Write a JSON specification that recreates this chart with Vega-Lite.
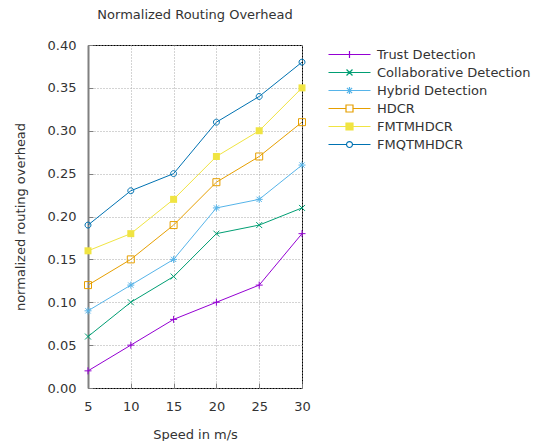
{
  "$schema": "https://vega.github.io/schema/vega-lite/v6.json",
  "autosize": {"type": "none"},
  "width": 214,
  "height": 343,
  "padding": {"left": 88, "top": 45, "right": 235, "bottom": 53},
  "background": "white",
  "title": {"text": "Normalized Routing Overhead", "font": "DejaVu Sans", "fontSize": 13, "fontWeight": "normal", "color": "#333", "offset": 17, "anchor": "middle"},
  "config": {
    "view": {"stroke": "black", "strokeWidth": 1},
    "axis": {"labelFont": "DejaVu Sans", "labelFontSize": 13, "labelColor": "#333", "titleFont": "DejaVu Sans", "titleFontSize": 13, "titleFontWeight": "normal", "titleColor": "#333", "domain": false, "ticks": true, "tickSize": -5, "tickColor": "#808080", "tickWidth": 1, "gridColor": "#a8a8a8", "gridDash": [1, 2], "gridWidth": 1, "gridOpacity": 1}
  },
  "data": {"values": [
    {"series": "Trust Detection", "speed": 5, "value": 0.02},
    {"series": "Trust Detection", "speed": 10, "value": 0.05},
    {"series": "Trust Detection", "speed": 15, "value": 0.08},
    {"series": "Trust Detection", "speed": 20, "value": 0.10},
    {"series": "Trust Detection", "speed": 25, "value": 0.12},
    {"series": "Trust Detection", "speed": 30, "value": 0.18},
    {"series": "Collaborative Detection", "speed": 5, "value": 0.06},
    {"series": "Collaborative Detection", "speed": 10, "value": 0.10},
    {"series": "Collaborative Detection", "speed": 15, "value": 0.13},
    {"series": "Collaborative Detection", "speed": 20, "value": 0.18},
    {"series": "Collaborative Detection", "speed": 25, "value": 0.19},
    {"series": "Collaborative Detection", "speed": 30, "value": 0.21},
    {"series": "Hybrid Detection", "speed": 5, "value": 0.09},
    {"series": "Hybrid Detection", "speed": 10, "value": 0.12},
    {"series": "Hybrid Detection", "speed": 15, "value": 0.15},
    {"series": "Hybrid Detection", "speed": 20, "value": 0.21},
    {"series": "Hybrid Detection", "speed": 25, "value": 0.22},
    {"series": "Hybrid Detection", "speed": 30, "value": 0.26},
    {"series": "HDCR", "speed": 5, "value": 0.12},
    {"series": "HDCR", "speed": 10, "value": 0.15},
    {"series": "HDCR", "speed": 15, "value": 0.19},
    {"series": "HDCR", "speed": 20, "value": 0.24},
    {"series": "HDCR", "speed": 25, "value": 0.27},
    {"series": "HDCR", "speed": 30, "value": 0.31},
    {"series": "FMTMHDCR", "speed": 5, "value": 0.16},
    {"series": "FMTMHDCR", "speed": 10, "value": 0.18},
    {"series": "FMTMHDCR", "speed": 15, "value": 0.22},
    {"series": "FMTMHDCR", "speed": 20, "value": 0.27},
    {"series": "FMTMHDCR", "speed": 25, "value": 0.30},
    {"series": "FMTMHDCR", "speed": 30, "value": 0.35},
    {"series": "FMQTMHDCR", "speed": 5, "value": 0.19},
    {"series": "FMQTMHDCR", "speed": 10, "value": 0.23},
    {"series": "FMQTMHDCR", "speed": 15, "value": 0.25},
    {"series": "FMQTMHDCR", "speed": 20, "value": 0.31},
    {"series": "FMQTMHDCR", "speed": 25, "value": 0.34},
    {"series": "FMQTMHDCR", "speed": 30, "value": 0.38}
  ]},
  "encoding": {
    "x": {"field": "speed", "type": "quantitative", "scale": {"domain": [5, 30], "nice": false, "zero": false},
      "axis": {"values": [5, 10, 15, 20, 25, 30], "title": "Speed in m/s", "labelPadding": 17, "titlePadding": 15, "labelFlush": false}},
    "y": {"field": "value", "type": "quantitative", "scale": {"domain": [0, 0.4], "nice": false},
      "axis": {"values": [0, 0.05, 0.1, 0.15, 0.2, 0.25, 0.3, 0.35, 0.4], "format": ".2f", "title": "normalized routing overhead", "labelPadding": 17, "titlePadding": 20, "labelFlush": false, "domain": true, "domainColor": "#808080", "domainWidth": 2}},
    "color": {"field": "series", "type": "nominal",
      "scale": {"domain": ["Trust Detection", "Collaborative Detection", "Hybrid Detection", "HDCR", "FMTMHDCR", "FMQTMHDCR"],
                "range": ["#9400d3", "#009e73", "#56b4e9", "#e69f00", "#f0e442", "#0072b2"]},
      "legend": {"orient": "none", "legendX": 255, "legendY": 3, "padding": 0, "title": null,
        "symbolSize": 49, "labelOffset": 21, "labelFont": "DejaVu Sans", "labelFontSize": 13, "labelColor": "#333", "rowPadding": 4, "labelLimit": 300, "symbolStrokeWidth": 1.2,
        "encode": {"symbols": {"update": {
          "shape": {"signal": "datum.value==='Trust Detection' ? 'M-6,0H6M0,-1V1' : datum.value==='Collaborative Detection' ? 'M-6,0H6M-0.85,-0.85L0.85,0.85M-0.85,0.85L0.85,-0.85' : datum.value==='Hybrid Detection' ? 'M-6,0H6M0,-1V1M-0.75,-0.75L0.75,0.75M-0.75,0.75L0.75,-0.75' : datum.value==='HDCR' ? 'M-6,0H-1M1,0H6M-1,-1H1V1H-1Z' : datum.value==='FMTMHDCR' ? 'M-6,0H6M-1,-1H1V1H-1Z' : 'M-6,0H-0.85M0.85,0H6M0.85,0A0.85,0.85,0,1,1,-0.85,0A0.85,0.85,0,1,1,0.85,0'"},
          "stroke": {"scale": "color", "field": "value"},
          "fill": {"scale": "color", "field": "value"},
          "fillOpacity": {"signal": "datum.value==='FMTMHDCR' ? 1 : 0"},
          "strokeWidth": {"value": 1.2},
          "opacity": {"value": 1}
        }}}}
    }
  },
  "layer": [
    {"mark": {"type": "line", "strokeWidth": 1}},
    {"transform": [{"filter": "datum.series === 'Trust Detection'"}],
      "mark": {"type": "point", "filled": false, "size": 49, "strokeWidth": 1, "opacity": 1, "shape": "M0,-1V1M-1,0H1"}},
    {"transform": [{"filter": "datum.series === 'Collaborative Detection'"}],
      "mark": {"type": "point", "filled": false, "size": 49, "strokeWidth": 1, "opacity": 1, "shape": "M-0.85,-0.85L0.85,0.85M-0.85,0.85L0.85,-0.85"}},
    {"transform": [{"filter": "datum.series === 'Hybrid Detection'"}],
      "mark": {"type": "point", "filled": false, "size": 49, "strokeWidth": 1, "opacity": 1, "shape": "M0,-1V1M-1,0H1M-0.75,-0.75L0.75,0.75M-0.75,0.75L0.75,-0.75"}},
    {"transform": [{"filter": "datum.series === 'HDCR'"}],
      "mark": {"type": "point", "filled": false, "size": 49, "strokeWidth": 1, "opacity": 1, "shape": "M-1,-1H1V1H-1Z"}},
    {"transform": [{"filter": "datum.series === 'FMTMHDCR'"}],
      "mark": {"type": "point", "filled": true, "size": 49, "opacity": 1, "shape": "M-1,-1H1V1H-1Z"}},
    {"transform": [{"filter": "datum.series === 'FMQTMHDCR'"}],
      "mark": {"type": "point", "filled": false, "size": 49, "strokeWidth": 1, "opacity": 1, "shape": "M0.85,0A0.85,0.85,0,1,1,-0.85,0A0.85,0.85,0,1,1,0.85,0"}}
  ]
}
